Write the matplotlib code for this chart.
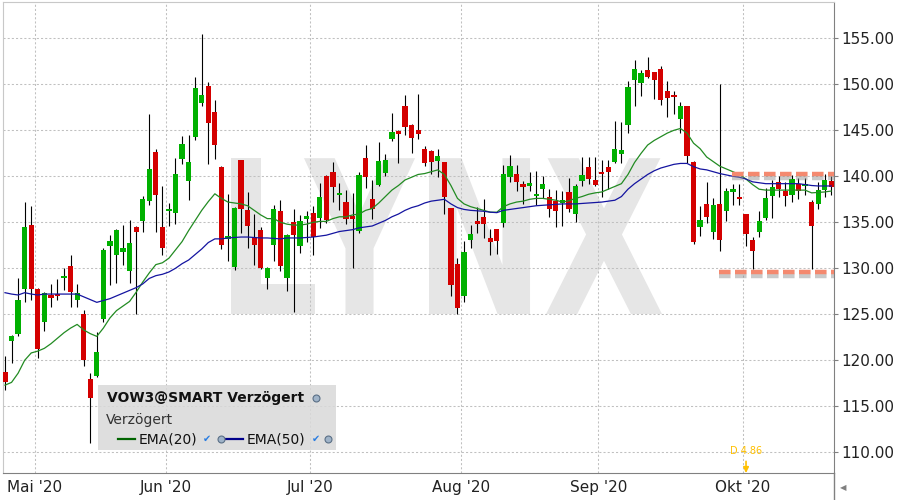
import matplotlib
matplotlib.use("Agg")
import matplotlib.pyplot as plt
import matplotlib.patheffects as pe
from matplotlib.patches import Rectangle, PathPatch
from matplotlib.textpath import TextPath
from matplotlib.font_manager import FontProperties
from matplotlib.transforms import Affine2D
from matplotlib.lines import Line2D
import numpy as np

# daily candles, 24 Apr 2020 .. 20 Oct 2020 (VOW3)
opens = [118.7, 122.1, 122.9, 127.7, 134.7, 127.7, 124.2, 127.1, 127.2, 128.95,
         130.3, 126.6, 125.0, 118.0, 118.3, 124.5, 132.4, 131.4, 131.8, 129.7,
         134.5, 135.1, 137.3, 142.6, 134.5, 136.2, 136.0, 141.9, 139.5, 144.3,
         148.0, 149.8, 147.0, 141.05, 133.2, 130.1, 141.8, 136.3, 133.4, 134.2,
         128.9, 132.5, 136.2, 129.0, 135.0, 132.4, 135.4, 136.05, 135.5, 140.0,
         140.5, 138.0, 137.2, 135.7, 134.1, 142.0, 137.5, 139.1, 140.4, 144.1,
         144.9, 147.6, 145.6, 145.0, 143.0, 142.75, 141.7, 141.6, 136.6, 130.5,
         127.0, 133.1, 135.1, 135.6, 133.3, 134.3, 134.9, 139.9, 140.3, 139.2,
         139.0, 137.9, 138.6, 137.7, 137.3, 137.1, 138.3, 135.9, 139.5, 141.05,
         139.6, 140.5, 141.0, 141.6, 142.4, 145.6, 150.5, 150.1, 151.6, 151.3,
         151.7, 149.3, 148.8, 146.2, 147.6, 141.6, 134.5, 137.0, 133.9, 137.0,
         136.2, 138.3, 137.7, 135.9, 133.1, 133.9, 135.5, 137.9, 139.35, 138.4,
         138.0, 139.2, 139.0, 137.2, 137.0, 138.5, 139.5]
highs = [120.5, 122.7, 128.9, 137.2, 136.8, 127.9, 127.4, 128.3, 128.8, 130.0,
         131.5, 128.3, 125.5, 118.6, 123.1, 132.2, 133.6, 134.3, 134.7, 135.3,
         134.6, 137.9, 146.8, 143.0, 138.9, 137.1, 142.0, 144.4, 144.5, 150.8,
         155.5, 150.2, 148.3, 141.1, 138.1, 136.7, 141.8, 138.3, 135.9, 134.5,
         130.1, 136.9, 137.4, 133.7, 136.4, 135.8, 136.2, 136.8, 139.3, 140.1,
         141.6, 139.3, 138.5, 138.2, 140.5, 143.4, 139.6, 143.7, 142.4, 146.9,
         145.0, 148.8, 145.7, 148.9, 143.3, 142.9, 143.0, 141.6, 136.6, 131.1,
         133.0, 134.7, 136.7, 137.5, 134.3, 134.3, 141.2, 142.3, 141.2, 139.5,
         140.5, 140.6, 140.0, 138.6, 138.5, 138.4, 139.8, 139.2, 142.1, 142.1,
         142.1, 141.8, 141.8, 146.0, 145.9, 150.4, 152.6, 151.6, 153.0, 151.3,
         152.0, 150.4, 149.3, 148.1, 147.6, 141.7, 136.8, 139.4, 137.6, 150.0,
         138.7, 139.2, 139.2, 135.9, 133.4, 136.2, 138.7, 139.6, 140.0, 139.35,
         140.1, 139.8, 139.85, 137.4, 139.4, 140.3, 140.0]
lows = [116.8, 119.7, 122.6, 126.3, 126.6, 120.3, 123.2, 125.8, 126.6, 127.6,
        125.8, 125.8, 119.4, 111.0, 118.2, 124.2, 128.2, 128.4, 130.4, 128.4,
        125.0, 134.0, 136.9, 133.9, 131.4, 134.6, 134.8, 141.3, 137.4, 144.0,
        147.6, 141.3, 141.9, 132.1, 130.8, 129.8, 133.8, 132.2, 130.4, 129.9,
        127.7, 130.8, 129.7, 127.5, 125.2, 131.7, 132.9, 131.4, 134.4, 134.9,
        137.2, 136.3, 134.8, 130.0, 133.8, 138.7, 135.4, 139.0, 140.0, 143.8,
        141.5, 144.5, 142.5, 144.1, 141.1, 140.3, 139.9, 135.9, 127.0, 125.0,
        126.3, 132.2, 133.8, 133.3, 131.5, 131.6, 134.5, 139.4, 138.4, 137.0,
        138.4, 136.9, 137.6, 135.6, 134.5, 134.6, 136.1, 135.0, 138.9, 139.2,
        138.9, 137.8, 138.6, 141.4, 141.5, 144.7, 147.6, 148.7, 150.7, 148.4,
        147.7, 146.4, 146.8, 144.7, 141.4, 132.6, 133.5, 134.9, 133.2, 131.9,
        135.1, 136.9, 136.9, 132.4, 129.9, 133.4, 135.25, 135.5, 137.7, 136.8,
        137.2, 137.5, 138.0, 129.9, 136.5, 137.7, 138.0]
closes = [117.6, 122.6, 126.6, 134.5, 127.7, 121.2, 127.3, 126.8, 127.0, 129.2,
          127.4, 127.3, 120.0, 115.9, 120.9, 132.0, 133.0, 134.2, 132.2, 132.8,
          133.9, 137.5, 140.8, 138.0, 132.2, 136.5, 140.3, 143.5, 141.6, 149.6,
          148.8, 145.8, 143.4, 132.5, 133.5, 136.6, 136.4, 134.6, 132.5, 130.0,
          130.0, 136.5, 130.2, 133.6, 133.6, 135.1, 135.7, 133.4, 137.8, 135.3,
          138.8, 138.2, 135.4, 135.4, 140.1, 139.9, 136.5, 141.7, 141.8, 144.8,
          144.6, 145.4, 144.2, 144.6, 141.5, 141.6, 142.2, 137.7, 128.2, 125.7,
          131.8, 133.7, 134.8, 134.8, 132.9, 133.0, 140.3, 141.1, 139.4, 138.8,
          139.3, 138.1, 139.2, 136.5, 136.2, 137.4, 136.4, 139.0, 140.1, 139.7,
          139.1, 140.3, 140.5, 143.0, 142.9, 149.7, 151.7, 151.2, 150.8, 150.5,
          148.3, 148.5, 148.6, 147.6, 142.2, 132.9, 135.2, 135.6, 136.9, 133.1,
          138.4, 138.6, 137.5, 133.7, 131.9, 135.1, 137.6, 138.8, 138.6, 137.9,
          139.7, 138.4, 139.2, 134.6, 138.5, 139.6, 138.8]

# indicator values as shown by the platform
ema20 = [117.3, 117.6, 118.6, 120.0, 120.8, 121.0, 121.3, 121.8, 122.4, 123.0,
         123.5, 123.9, 123.3, 122.9, 122.6, 123.5, 124.6, 125.4, 125.9, 126.4,
         127.4, 128.5, 129.5, 130.4, 130.6, 131.1, 132.0, 132.9, 134.1, 135.2,
         136.3, 137.25, 138.1, 137.6, 137.2, 137.1, 137.0, 136.8, 136.3, 135.8,
         135.4, 135.4, 135.0, 134.8, 134.7, 134.7, 134.8, 135.0, 135.1, 135.1,
         135.4, 135.6, 135.6, 135.8, 135.9, 136.3, 136.5, 137.1, 137.8, 138.5,
         139.0, 139.6, 139.9, 140.2, 140.3, 140.5, 140.7, 140.2, 139.0, 137.6,
         137.0, 136.7, 136.5, 136.3, 136.1, 136.1, 136.7, 137.0, 137.2, 137.3,
         137.5, 137.6, 137.6, 137.5, 137.4, 137.2, 137.35, 137.6, 137.8, 138.05,
         138.2, 138.3, 138.6, 138.9, 139.2, 140.2, 141.5, 142.5, 143.4, 143.9,
         144.3, 144.7, 145.0, 145.2, 144.7, 143.6, 143.0, 142.1, 141.6, 141.1,
         140.8, 140.5, 140.2, 139.7, 139.1, 138.6, 138.5, 138.5, 138.5, 138.5,
         138.5, 138.5, 138.5, 138.2, 138.25, 138.3, 138.4]
ema50 = [127.35, 127.2, 127.1, 127.35, 127.2, 127.1, 127.2, 127.2, 127.2, 127.2,
         127.2, 127.2, 126.9, 126.6, 126.3, 126.5, 126.7, 127.0, 127.3, 127.6,
         127.9, 128.3, 128.9, 129.2, 129.35, 129.6, 130.0, 130.5, 130.9, 131.5,
         132.1, 132.8, 133.2, 133.2, 133.3, 133.35, 133.4, 133.4, 133.35, 133.3,
         133.3, 133.25, 133.2, 133.3, 133.3, 133.3, 133.35, 133.4, 133.5, 133.6,
         133.8, 134.0, 134.1, 134.2, 134.4, 134.5, 134.6, 134.9, 135.2, 135.6,
         135.9, 136.3, 136.6, 136.8, 137.1, 137.3, 137.4, 137.5, 137.0, 136.6,
         136.4, 136.3, 136.25, 136.2, 136.1, 136.05, 136.3, 136.4, 136.5, 136.6,
         136.7, 136.8, 136.85, 136.9, 136.95, 137.0, 137.0, 137.0, 137.05, 137.1,
         137.15, 137.2, 137.3, 137.4, 137.8, 138.6, 139.2, 139.7, 140.2, 140.6,
         140.9, 141.1, 141.3, 141.4, 141.4, 141.05, 140.8, 140.7, 140.5, 140.3,
         140.15, 140.0, 139.9, 139.7, 139.4, 139.3, 139.2, 139.2, 139.2, 139.2,
         139.2, 139.2, 139.1, 139.0, 138.95, 138.95, 138.95]

month_labels = ["Mai '20", "Jun '20", "Jul '20", "Aug '20", "Sep '20", "Okt '20"]
month_first_day = [5, 25, 47, 70, 91, 113]   # candle index of first trading day

# drawn support / resistance lines: (level, start candle)
sr_levels = [140.25, 129.6]
sr_start = [110.8, 108.9]

div_index = 113
div_label = "D 4.86"

UP = '#00b000'
DOWN = '#d40000'

o = np.array(opens)
h = np.array(highs)
l = np.array(lows)
c = np.array(closes)
x = np.arange(len(c))

fig = plt.figure(figsize=(9, 5), dpi=100)
ax = fig.add_axes([0.003, 0.054, 0.9237, 0.9426])
ax.set_xlim(-0.35, 126.42)
ax.set_ylim(107.75, 158.98)

# watermark
fp = FontProperties(family='DejaVu Sans', weight='bold')
wm_boxes = {'L': (0.2746, 0.3757), 'Y': (0.3624, 0.496),
            'N': (0.5128, 0.6343), 'X': (0.6536, 0.793)}
wm_y0, wm_y1 = 0.3374, 0.668
for ch, (bx0, bx1) in wm_boxes.items():
    tp = TextPath((0, 0), ch, size=1, prop=fp)
    ext = tp.get_extents()
    tr = (Affine2D().translate(-ext.x0, -ext.y0)
          .scale((bx1 - bx0) / ext.width, (wm_y1 - wm_y0) / ext.height)
          .translate(bx0, wm_y0) + ax.transAxes)
    ax.add_patch(PathPatch(tp, transform=tr, facecolor='#e6e6e6', lw=0, zorder=0.2))

# grid
ax.set_axisbelow(True)
ax.grid(True, color='#c0c0c0', linestyle=(0, (2, 2)), lw=0.75)

# candles
cols = np.where(c >= o, UP, DOWN)
ax.vlines(x, l, h, color='black', lw=0.8, zorder=3)
ax.bar(x, np.maximum(np.abs(c - o), 0.12), bottom=np.minimum(o, c), width=0.8,
       color=cols, linewidth=0, zorder=4)

# EMAs
ax.plot(x, ema20, color='#228b22', lw=0.9, zorder=5)
ax.plot(x, ema50, color='#1414a0', lw=0.9, zorder=5)

# support / resistance
xmax = ax.get_xlim()[1]
for lev, xs in zip(sr_levels, sr_start):
    ln, = ax.plot([xs, xmax], [lev, lev], color='#f4896f', lw=3.2, zorder=6,
                  solid_capstyle='butt', dash_capstyle='butt')
    ln.set_dashes((2.6, 1.0))
    ln.set_path_effects([pe.SimpleLineShadow(offset=(0, -3), shadow_color='#888888', alpha=0.45),
                         pe.Normal()])

# dividend marker
ax.annotate(div_label, xy=(div_index, 107.75), xytext=(0, 16), textcoords='offset points',
            ha='center', va='center', fontsize=7, color='#ffc000',
            arrowprops=dict(arrowstyle='-|>', color='#ffc000', lw=1.2,
                            mutation_scale=8, shrinkA=2, shrinkB=0), zorder=7)

# axes styling
for side in ('top', 'left'):
    ax.spines[side].set_color('#c8c8c8')
for side in ('bottom', 'right'):
    ax.spines[side].set_color('#808080')
ax.yaxis.tick_right()
ax.set_yticks(np.arange(110, 156, 5))
ax.set_yticklabels(['%.2f' % v for v in np.arange(110, 156, 5)])
ax.tick_params(axis='y', length=3, color='#808080', labelsize=11, pad=2.5,
               labelcolor='#222222')
ax.set_xticks([m - 0.5 for m in month_first_day])
ax.set_xticklabels(month_labels)
ax.tick_params(axis='x', length=0, labelsize=11, pad=5, labelcolor='#222222')

fig.add_artist(Line2D([0.9267, 0.9267], [0, 0.054], color='#808080', lw=1))
fig.text(0.937, 0.025, '\u25C0', fontsize=6, color='#808080', ha='center', va='center')

# legend panel
ax.add_patch(Rectangle((0.115, 0.0488), 0.286, 0.138, transform=ax.transAxes,
                       facecolor='#d9d9d9', edgecolor='none', alpha=0.85, zorder=8))
ax.text(0.1255, 0.160, 'VOW3@SMART Verzögert', transform=ax.transAxes, fontsize=10,
        fontweight='bold', color='#111111', va='center', ha='left', zorder=9)
ax.text(0.1245, 0.1125, 'Verzögert', transform=ax.transAxes, fontsize=10,
        color='#333333', va='center', ha='left', zorder=9)
ax.plot([0.139, 0.159], [0.0715, 0.0715], transform=ax.transAxes, color='#006400', lw=1.6, zorder=9)
ax.text(0.164, 0.0715, 'EMA(20)', transform=ax.transAxes, fontsize=10,
        color='#111111', va='center', ha='left', zorder=9)
ax.plot([0.2686, 0.2887], [0.0715, 0.0715], transform=ax.transAxes, color='#00008b', lw=1.6, zorder=9)
ax.text(0.2935, 0.0715, 'EMA(50)', transform=ax.transAxes, fontsize=10,
        color='#111111', va='center', ha='left', zorder=9)
for cx in (0.2457, 0.3765):
    ax.text(cx, 0.0715, '\u2714', transform=ax.transAxes, fontsize=7, color='#2a7de1',
            ha='center', va='center', zorder=9)
for gx, gy in ((0.262, 0.0715), (0.3917, 0.0715), (0.3768, 0.160)):
    ax.plot([gx], [gy], 'o', transform=ax.transAxes, ms=5, mfc='#9fb3c8',
            mec='#5a6f86', mew=0.8, zorder=9)

fig.savefig('out.png', dpi=100)
